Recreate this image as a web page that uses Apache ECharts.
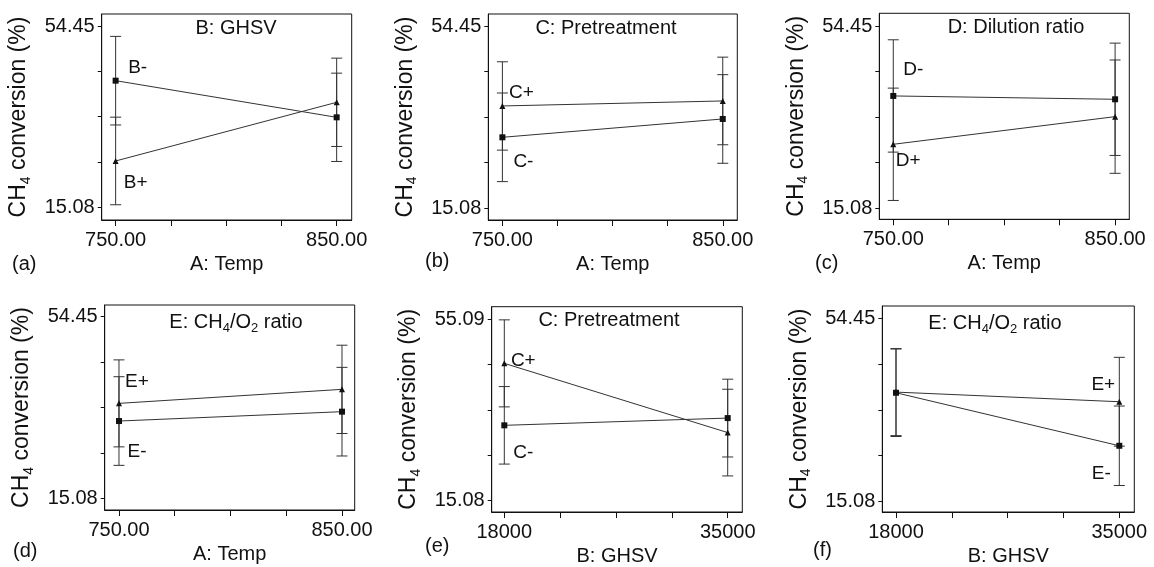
<!DOCTYPE html>
<html><head><meta charset="utf-8">
<script src="https://cdn.jsdelivr.net/npm/echarts@6/dist/echarts.min.js"></script>
<style>html,body{margin:0;padding:0;background:#fff}#c{width:1154px;height:567px}</style>
</head><body><div id="c"></div><script>
// ---------------- data ----------------
const tempLevels = [750, 850];
const ghsvLevels = [18000, 35000];
const tempTicks = [750, 775, 800, 825, 850];
const ghsvTicks = [18000, 22250, 26500, 30750, 35000];
const yTicksStd = [15.08, 24.92, 34.77, 44.61, 54.45];
const yTicksE = [15.08, 25.08, 35.09, 45.09, 55.09];
const yTickLabelsStd = [15.08, 54.45];
const yTickLabelsE = [15.08, 55.09];
const panelLetters = ['(a)', '(b)', '(c)', '(d)', '(e)', '(f)'];
const panelTitles = ['B: GHSV', 'C: Pretreatment', 'D: Dilution ratio', 'E: CH{sub|4}/O{sub|2} ratio', 'C: Pretreatment', 'E: CH{sub|4}/O{sub|2} ratio'];
const xAxisNames = ['A: Temp', 'A: Temp', 'A: Temp', 'A: Temp', 'B: GHSV', 'B: GHSV'];
const yAxisName = 'CH{sub|4} conversion (%)';
const minusNames = ['B-', 'C-', 'D-', 'E-', 'C-', 'E-'];
const plusNames = ['B+', 'C+', 'D+', 'E+', 'C+', 'E+'];
const minusValues = [[42.58, 34.62], [30.41, 34.37], [39.34, 38.62], [31.83, 33.86], [31.67, 33.27], [38.44, 27.05]];
const plusValues = [[25.14, 37.88], [37.18, 38.26], [28.90, 34.87], [35.66, 38.70], [45.34, 30.07], [38.58, 36.51]];
const minusLsd = [[9.62, 9.59], [9.57, 9.57], [12.13, 12.13], [9.61, 9.61], [8.55, 8.58], [9.40, 8.54]];
const plusLsd = [[9.51, 9.59], [9.54, 9.46], [12.13, 12.24], [9.43, 9.57], [9.60, 9.56], [9.35, 9.54]];

// ---------------- layout / style ----------------
const FONT = '"Liberation Sans", Arial, sans-serif';
const INK = '#111';
const layout = [
  {left: 101.7, top: 14, width: 250, height: 206, xMin: 743.7, xMax: 856.8, yMin: 12.32, yMax: 57.06, titleX: 236, letter: [12, 264]},
  {left: 488.3, top: 14, width: 249, height: 206, xMin: 743.6, xMax: 856.6, yMin: 12.55, yMax: 57.04, titleX: 606, letter: [425, 261]},
  {left: 879.3, top: 13.3, width: 250, height: 206, xMin: 743.7, xMax: 856.4, yMin: 12.70, yMax: 57.19, titleX: 1016, letter: [815, 263]},
  {left: 104.7, top: 305, width: 250, height: 205, xMin: 743.6, xMax: 855.7, yMin: 12.54, yMax: 56.99, titleX: 236, letter: [13, 551]},
  {left: 491.7, top: 306.7, width: 250.6, height: 207.6, xMin: 17041, xMax: 36111, yMin: 12.55, yMax: 57.84, titleX: 609, letter: [425, 546]},
  {left: 882.3, top: 306, width: 252, height: 207.3, xMin: 16957, xMax: 36142, yMin: 12.82, yMax: 57.08, titleX: 995, letter: [813, 550]}
];
// label anchor: [pointIndex, dx, dy]
const minusLabelPos = [[0, 22, -13], [0, 21, 24], [0, 20, -26], [0, 18, 31], [0, 19, 27], [1, -18, 28]];
const plusLabelPos = [[0, 20, 22], [0, 19, -13], [0, 15, 16], [0, 18, -22], [0, 19, -3], [1, -16, -17]];

const subRich = {sub: {fontSize: 13, fontFamily: FONT, color: INK, padding: [13, 0, 0, 0]}};
const subRichY = {sub: {fontSize: 14, fontFamily: FONT, color: INK, padding: [14, 0, 0, 0]}};

function renderBar(params, api) {
  const x = api.value(0);
  const hi = api.coord([x, api.value(2)]);
  const lo = api.coord([x, api.value(1)]);
  const hw = 5.5;
  const style = {stroke: '#333', lineWidth: 1, fill: null};
  return {type: 'group', children: [
    {type: 'line', shape: {x1: hi[0], y1: hi[1], x2: lo[0], y2: lo[1]}, style: style},
    {type: 'line', shape: {x1: hi[0] - hw, y1: hi[1], x2: hi[0] + hw, y2: hi[1]}, style: style},
    {type: 'line', shape: {x1: lo[0] - hw, y1: lo[1], x2: lo[0] + hw, y2: lo[1]}, style: style}
  ]};
}

const grids = [], xAxes = [], yAxes = [], series = [], graphics = [];
layout.forEach((g, i) => {
  const isGhsv = i >= 4;
  const levels = isGhsv ? ghsvLevels : tempLevels;
  const yt = i === 4 ? yTicksE : yTicksStd;
  const ytl = i === 4 ? yTickLabelsE : yTickLabelsStd;
  grids.push({left: g.left, top: g.top, width: g.width, height: g.height, show: true, borderColor: INK, borderWidth: 1});
  xAxes.push({
    gridIndex: i, type: 'value', min: g.xMin, max: g.xMax,
    axisLine: {show: true, onZero: false, lineStyle: {color: INK, width: 1}},
    axisTick: {show: true, customValues: isGhsv ? ghsvTicks : tempTicks, length: 6, lineStyle: {color: INK, width: 1}},
    axisLabel: {customValues: levels, fontSize: 20, fontFamily: FONT, color: INK, margin: 10,
      formatter: v => isGhsv ? String(v) : Number(v).toFixed(2)},
    splitLine: {show: false},
    name: xAxisNames[i], nameLocation: 'middle', nameGap: 34,
    nameTextStyle: {fontSize: 20, fontFamily: FONT, color: INK}
  });
  yAxes.push({
    gridIndex: i, type: 'value', min: g.yMin, max: g.yMax,
    axisLine: {show: true, onZero: false, lineStyle: {color: INK, width: 1}},
    axisTick: {show: true, customValues: yt, length: 4, lineStyle: {color: INK, width: 1}},
    axisLabel: {customValues: ytl, fontSize: 20, fontFamily: FONT, color: INK, margin: 7,
      formatter: v => Number(v).toFixed(2)},
    splitLine: {show: false},
    name: yAxisName, nameLocation: 'middle', nameGap: 69, nameRotate: 90,
    nameTextStyle: {fontSize: 23, fontFamily: FONT, color: INK, rich: subRichY}
  });
  const bars = [];
  levels.forEach((lv, k) => {
    bars.push([lv, minusValues[i][k] - minusLsd[i][k], minusValues[i][k] + minusLsd[i][k]]);
    bars.push([lv, plusValues[i][k] - plusLsd[i][k], plusValues[i][k] + plusLsd[i][k]]);
  });
  series.push({type: 'custom', xAxisIndex: i, yAxisIndex: i, renderItem: renderBar, data: bars, silent: true, z: 1});
  const mk = (vals, name, pos, symbol) => ({
    type: 'line', name: name, xAxisIndex: i, yAxisIndex: i, symbol: symbol, symbolSize: 6, z: 3,
    itemStyle: {color: INK}, lineStyle: {color: '#333', width: 1},
    data: levels.map((lv, k) => k === pos[0]
      ? {value: [lv, vals[k]], label: {show: true, position: 'inside', offset: [pos[1], pos[2]], formatter: name,
          fontSize: 19, fontFamily: FONT, color: INK}}
      : [lv, vals[k]])
  });
  series.push(mk(minusValues[i], minusNames[i], minusLabelPos[i], 'rect'));
  series.push(mk(plusValues[i], plusNames[i], plusLabelPos[i], 'triangle'));
  graphics.push({type: 'text', x: g.titleX, y: g.top + 4,
    style: {text: panelTitles[i], fontSize: 20, fontFamily: FONT, fill: INK, align: 'center', verticalAlign: 'top', rich: subRich}});
  graphics.push({type: 'text', x: g.letter[0], y: g.letter[1],
    style: {text: panelLetters[i], fontSize: 20, fontFamily: FONT, fill: INK, align: 'left', verticalAlign: 'middle'}});
});

const chart = echarts.init(document.getElementById('c'), null, {renderer: 'canvas'});
chart.setOption({
  backgroundColor: '#fff', animation: false,
  grid: grids, xAxis: xAxes, yAxis: yAxes, series: series, graphic: graphics
});
</script></body></html>
